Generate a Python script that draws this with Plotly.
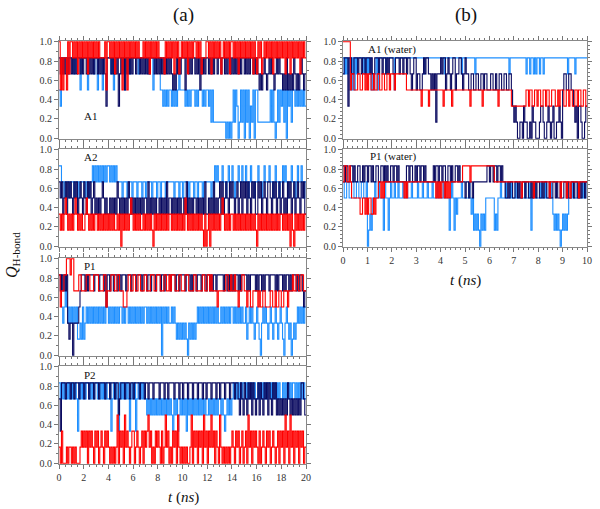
import numpy as np
import plotly.graph_objects as go

# Number of intact H-bonds (out of 6) per time step.
# Q_H-bond = count / 6.
# Panel (a): one digit per 0.1 ns (groups of 10 = 1 ns).
# Panel (b): one digit per 0.05 ns (groups of 20 = 1 ns).
DT_A = 0.1
DT_B = 0.05
A1_navy = "5454545455 4545455454 5545454545 5454545425 5545454524 5453545454 5545545454 5454555454 5454545454 5434354545 5535545455 4545354545 5454545545 5455454554 5454545455 4545455454 5434345434 5454345454 4343534343 5434345434"
A1_blue = "3254555545 5545555355 5553555545 5355535555 5545355555 5553555455 5555455555 5545553555 5533232323 3232323433 3323232333 2323332323 3231311111 1111101010 1313201313 0313021303 3111111111 1313101313 2313032313 3232323232"
A1_red  = "6353553646 6565646565 6564656565 6565555636 6565646565 6365636565 6565655565 6564656565 6555546565 6564656456 5656465656 6565645556 6564656565 6456565646 6565646565 6565656465 4656456565 6564656565 6564656465 6565646565"

A2_navy = "4342342434 3243423432 4324342342 3232343232 2323232432 3232324323 2323232323 3242323232 2323232423 3232323232 2324232323 3232323242 2323242323 4242343243 4323423424 3424324342 2434234324 4324342342 3423243423 4234324342"
A2_blue = "5544344434 4434443444 4344344545 4545454545 5454545444 4344434443 4443444344 3444434443 4434443444 4443444344 3444434443 4434443444 4443445454 4454434544 5434454454 4543454434 4544345444 5443454434 4545434454 4345445434"
A2_red  = "2121232121 2123212121 1232121212 2121212121 2121211212 0212121232 1212121121 2121210212 1212121212 2121212121 2132121212 1212121020 1202121212 1232121212 2121212121 2121212121 0212121212 1212121212 2121212021 0212121212"

P1_navy = "5454545212 2022223455 5454555545 5545554535 5455455455 4555455545 5545555455 5455455545 5545545555 4555455455 5545554545 5455545554 5545455455 5554554545 4545545455 5545455554 5455454555 4555545455 5454554545 5545455434"
P1_blue = "5532353232 3232311213 1232323232 3232323233 2323232323 3232332323 2323232323 3232323232 3230323232 2323212121 2121021212 1232323232 3232323232 2323232323 3232323232 2312323212 3210232321 2321232123 2102321201 2123232323"
P1_red  = "5344556665 6644445544 4455544455 5544445534 4455544554 4433345544 5544554445 5444555445 5544455445 4555444554 4455544445 5444445544 5545444434 4444455445 4454434455 4434433444 4343344333 3443343344 3344434445 4455445544"

P2_navy = "4255545554 5545554555 4555455545 5545555455 5455545534 5554555455 4555545554 5545554555 5455545545 5554555455 4555455545 5545554554 5554555455 4555455545 5545543543 5435453543 4535435453 5435453434 3434354343 4343435543"
P2_blue = "5454544545 4545425454 5455454545 5454545454 4524545425 4545454245 4524545454 4343434343 4343434343 4324342343 4342434343 4343434343 3434343434 4343234343 4545454545 5454545454 4545454545 5454545454 4545454545 5454545454"
P2_red  = "1020001011 0101000121 2120212102 1201210212 1010101302 1203121012 2012101202 1231201021 2102013120 1021203101 0101001302 1202120312 0213120210 3101010101 2102120120 1203120212 1020121021 2012101202 1203120312 0212021201"

W_A1_navy = ("45552554455545545545 55454455545545545455 54455545545545543455 34433454554434341444 54553454345534455434 "
             "54433443344334434433 34433433443344334432 12100110211001021100 01221001210120011210 34433443321202210012")
W_A1_blue = ("54545353535455555454 54534345355555545555 55355555555555555555 55555545555555555555 55545555555555555455 "
             "55555555455555555555 55555555555555554555 55555555554554554545 54554555555555555555 55554555554555555555")
W_A1_red  = ("66666634433344334434 34433433443344334434 44344444444433333333 33332333332333333333 33233333323333333333 "
             "33332333333333233333 33333332333333333322 22222222223323322332 33223323322333223233 32233233223323322332")

W_P1_navy = ("54554455454455445455 45545445544554545445 54554544444455455445 45545545444444545545 54554455454455454444 "
             "34434434444444444455 45545545545443343443 34434334434433434434 43343443343344343343 34434334434433434434")
W_P1_blue = ("43344334433443344334 01213343343331433134 33433433343343334333 34333433343334333433 33433331343132333433 "
             "33343231212102121333 33331213343334333433 34333433343334133433 33433343334321212101 21212333433343334334")
W_P1_red  = ("45544543333333223323 23322323344343444444 44444444443434444444 44444444444444443434 34434343444444444455 "
             "55554555555555555555 55554444444444444444 44444434444444443444 44444444434444444434 44434434444443444444")

panel_labels = ["A1", "A2", "P1", "P2", "A1 (water)", "P1 (water)"]
y_ticks = [0.0, 0.2, 0.4, 0.6, 0.8, 1.0]

NAVY = "#0b0b60"
BLUE = "#1e8fff"
RED = "#ff0000"

W, H = 600, 509
def px(x): return x / W
def py(y): return 1 - y / H

fig = go.Figure()

def series(s, dt):
    v = [int(c) / 6 for c in s.replace(" ", "")]
    t = list(np.arange(len(v)) * dt) + [len(v) * dt]
    v = v + [v[-1]]
    return t, v

panels = [
    (A1_navy, A1_blue, A1_red, 1, (59, 306), (41, 139), 20, False, DT_A),
    (A2_navy, A2_blue, A2_red, 2, (59, 306), (149, 247), 20, False, DT_A),
    (P1_navy, P1_blue, P1_red, 3, (59, 306), (258, 356), 20, False, DT_A),
    (P2_navy, P2_blue, P2_red, 4, (59, 306), (366, 464), 20, True, DT_A),
    (W_A1_navy, W_A1_blue, W_A1_red, 5, (343, 587), (41, 139), 10, False, DT_B),
    (W_P1_navy, W_P1_blue, W_P1_red, 6, (343, 587), (149, 247), 10, True, DT_B),
]

tickfont = dict(family="Liberation Serif", size=10, color="#333333")
for (nv, bl, rd, k, xd, yd, xmax, showx, dt) in panels:
    xa = "x" if k == 1 else f"x{k}"
    ya = "y" if k == 1 else f"y{k}"
    for s, col in ((bl, BLUE), (nv, NAVY), (rd, RED)):
        t, v = series(s, dt)
        fig.add_trace(go.Scatter(x=t, y=v, mode="lines", line=dict(color=col, width=1.1, shape="hv"),
                                 xaxis=xa, yaxis=ya, showlegend=False, hoverinfo="skip"))
    left = xmax == 20
    xkw = dict(domain=[px(xd[0]), px(xd[1])], range=[0, xmax], anchor=ya, automargin=False,
               dtick=2 if left else 1, showticklabels=showx, ticks="outside", ticklen=4,
               tickcolor="#777777", showline=True, linecolor="#888888", linewidth=1, mirror="ticks",
               showgrid=False, zeroline=False, tickfont=tickfont,
               minor=dict(dtick=0.5 if left else 0.2, ticks="outside", ticklen=2, tickcolor="#777777"))
    ykw = dict(domain=[py(yd[1]), py(yd[0])], range=[-0.008, 1.008], anchor=xa, automargin=False,
               tickvals=y_ticks, tickformat=".1f", ticks="outside", ticklen=4,
               tickcolor="#777777", showline=True, linecolor="#888888", linewidth=1, mirror="ticks",
               showgrid=False, zeroline=False, tickfont=tickfont,
               minor=dict(tickvals=list(np.round(np.arange(0, 1.001, 0.1 if left else 0.04), 3)),
                          ticks="outside", ticklen=2, tickcolor="#777777"))
    fig.layout[("xaxis" if k == 1 else f"xaxis{k}")] = xkw
    fig.layout[("yaxis" if k == 1 else f"yaxis{k}")] = ykw

def note(x, y, text, size, angle=0):
    return dict(x=px(x), y=py(y), xref="paper", yref="paper", text=text, showarrow=False,
                xanchor="center", yanchor="middle", textangle=angle,
                font=dict(family="Liberation Serif", size=size, color="#111111"))

ann = []
lab_pos = [(90, 116), (90, 157), (90, 266), (90, 375), (392, 49), (393, 156)]
for lab, (x, y) in zip(panel_labels, lab_pos):
    ann.append(note(x, y, lab, 11))
ann.append(note(183, 15, "(a)", 19))
ann.append(note(466, 15, "(b)", 19))
ann.append(note(183, 497, "<i>t</i> (<i>ns</i>)", 15))
ann.append(note(466, 280, "<i>t</i> (<i>ns</i>)", 15))
ann.append(note(12, 255, "<i>Q</i><sub>H-bond</sub>", 16, -90))

fig.update_layout(width=W, height=H, margin=dict(l=0, r=0, t=0, b=0),
                  paper_bgcolor="white", plot_bgcolor="white", annotations=ann)
fig.write_html("out.html", config={"displayModeBar": False},
               post_script="document.body.style.margin='0';document.body.style.overflow='hidden';")
